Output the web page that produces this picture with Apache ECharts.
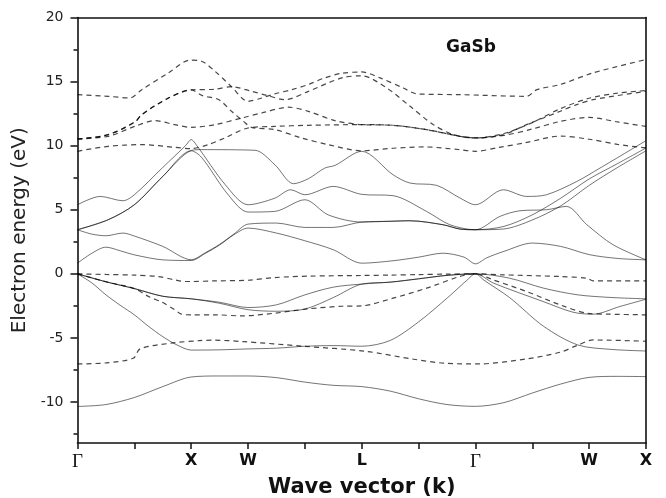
<!DOCTYPE html>
<html><head><meta charset="utf-8">
<script src="https://cdn.jsdelivr.net/npm/echarts@6/dist/echarts.min.js"></script>
<style>html,body{margin:0;padding:0;background:#fff}#c{width:666px;height:498px}</style>
</head><body><div id="c"></div>
<script>
// k-path positions of tick labels
const kTicks = [0,1,2,3,4,5,6,7,8,9,10];
const kLabels = {0:'Γ',2:'X',3:'W',5:'L',7:'Γ',9:'W',10:'X'};
const yMajor = [-10,-5,0,5,10,15,20];
const yMinor = [-12.5,-7.5,-2.5,2.5,7.5,12.5,17.5];

// solid bands [k, E]
const s1 = [[0,-10.35],[0.5,-10.2],[1,-9.65],[1.5,-8.8],[2,-8.05],[2.5,-7.97],[3,-7.97],[3.5,-8.1],[4,-8.45],[4.5,-8.7],[5,-8.8],[5.5,-9.15],[6,-9.75],[6.5,-10.2],[7,-10.34],[7.5,-10.05],[8,-9.3],[8.5,-8.6],[9,-8.08],[9.5,-8.0],[10,-8.02]];
const s2 = [[0,0],[0.25,-0.7],[0.5,-1.64],[0.75,-2.45],[1,-3.2],[1.25,-4.1],[1.5,-4.9],[1.75,-5.55],[2,-5.95],[2.5,-5.93],[3,-5.86],[3.5,-5.8],[4,-5.65],[4.5,-5.6],[5,-5.65],[5.5,-5.2],[6,-3.75],[6.5,-1.9],[6.85,-0.5],[7,0],[7.15,-0.5],[7.6,-1.85],[8.2,-4.1],[8.8,-5.55],[9.4,-5.9],[10,-6.02]];
const s3 = [[0,0],[0.5,-0.62],[1,-1.15],[1.5,-1.75],[2,-1.95],[2.5,-2.22],[3,-2.63],[3.5,-2.42],[4,-1.64],[4.5,-1.04],[5,-0.8],[5.5,-0.65],[6,-0.39],[6.5,-0.12],[7,0],[7.6,-0.34],[8.2,-1.12],[8.8,-1.64],[9.4,-1.85],[10,-1.95]];
const s4 = [[0,0],[0.5,-0.62],[1,-1.15],[1.5,-1.75],[2,-1.95],[2.5,-2.3],[3,-2.8],[3.5,-2.92],[4,-2.75],[4.5,-1.85],[5,-0.8],[5.5,-0.65],[6,-0.39],[6.5,-0.12],[7,0],[7.32,-0.73],[8.19,-2.16],[8.72,-3.0],[9.07,-3.15],[9.54,-2.55],[10,-1.98]];
const c1 = [[0,0.83],[0.25,1.6],[0.5,2.08],[0.75,1.8],[1,1.48],[1.5,1.09],[2,1.04],[2.25,1.6],[2.5,2.25],[2.75,3.05],[3,3.57],[3.5,3.18],[4,2.58],[4.5,1.88],[5,0.83],[5.55,1.02],[6,1.3],[6.43,1.61],[6.8,1.3],[7,0.78],[7.2,1.25],[7.5,1.75],[8,2.4],[8.5,2.14],[9,1.5],[9.5,1.2],[10,1.09]];
const c2 = [[0,3.44],[0.25,3.1],[0.5,2.97],[0.8,3.18],[1,2.95],[1.5,2.14],[2,1.1],[2.25,1.65],[2.5,2.3],[2.75,3.1],[3,3.88],[3.5,3.96],[4,3.62],[4.5,3.62],[5,4.04],[5.5,4.1],[5.85,4.14],[6.43,3.83],[6.73,3.49],[7,3.44],[7.43,4.48],[7.78,4.92],[8.25,5.0],[8.6,5.26],[8.96,3.83],[9.42,2.27],[10,1.09]];
const c3 = [[0,3.44],[0.54,4.22],[1,5.39],[1.5,7.6],[2,9.6],[2.18,9.1],[2.65,6.17],[3,4.82],[3.47,4.87],[4,5.78],[4.41,4.6],[5,4.04],[5.5,4.1],[5.85,4.14],[6.43,3.83],[6.73,3.49],[7,3.44],[7.5,3.7],[8,4.6],[8.5,5.9],[9,7.4],[9.5,8.6],[10,9.82]];
const c4 = [[0,5.39],[0.4,6.04],[0.8,5.7],[1,6.17],[1.5,8.3],[1.9,10.0],[2,10.47],[2.1,10.0],[2.6,6.95],[3,5.39],[3.47,5.9],[3.75,6.56],[4,6.17],[4.5,6.82],[5,6.2],[5.55,6.1],[6.14,4.87],[6.55,3.83],[7,3.44],[7.5,3.5],[8,4.2],[8.5,5.3],[9,6.9],[9.5,8.3],[10,9.6]];
const c5 = [[0,3.44],[0.54,4.22],[1,5.39],[1.5,7.6],[2,9.62],[2.18,9.69],[3.12,9.64],[3.47,8.52],[3.8,7.03],[4.06,7.42],[4.35,8.25],[4.53,8.46],[5,9.56],[5.55,7.73],[5.85,7.08],[6.32,6.9],[6.73,5.91],[7,5.39],[7.49,6.56],[7.9,6.04],[8.25,6.17],[8.78,7.2],[9.19,8.25],[10,10.39]];

// dashed bands [k, E]
const dA = [[0,0],[0.5,-0.05],[1,-0.1],[1.42,-0.21],[1.71,-0.47],[1.9,-0.6],[2,-0.6],[2.42,-0.55],[3,-0.5],[3.47,-0.29],[4.06,-0.18],[5,-0.13],[5.5,-0.1],[6,-0.06],[6.5,-0.02],[7,0],[7.49,-0.08],[8.49,-0.21],[8.96,-0.34],[9.07,-0.55],[10,-0.55]];
const dB = [[0,0],[0.5,-0.62],[1,-1.15],[1.25,-1.77],[1.48,-2.2],[1.71,-2.8],[1.83,-3.15],[2,-3.2],[2.42,-3.2],[2.89,-3.28],[3.47,-3.07],[4.06,-2.73],[4.65,-2.53],[5,-2.5],[5.55,-1.9],[6.14,-1.12],[6.73,-0.2],[7,0],[7.31,-0.47],[7.9,-1.38],[8.49,-2.42],[8.96,-3.07],[9.37,-3.15],[10,-3.2]];
const dC = [[0,-7.03],[0.5,-6.95],[0.98,-6.59],[1.1,-5.86],[1.63,-5.42],[2.15,-5.21],[2.39,-5.18],[2.92,-5.29],[3.97,-5.65],[5.06,-6.04],[5.88,-6.64],[6.47,-6.98],[7.05,-7.03],[7.9,-6.64],[8.49,-6.12],[8.78,-5.6],[9.07,-5.16],[10,-5.26]];
const d1 = [[0,13.98],[0.54,13.85],[0.92,13.72],[1.13,14.37],[1.6,15.68],[1.98,16.67],[2.18,16.59],[2.42,15.8],[2.71,14.6],[3,13.46],[3.24,13.72],[3.47,14.04],[3.77,14.37],[4.06,14.77],[4.35,15.29],[4.65,15.65],[5,15.75],[5.32,15.29],[5.73,14.5],[5.97,14.04],[6.73,13.98],[7.9,13.85],[8.08,14.37],[8.49,14.77],[9.07,15.68],[10,16.72]];
const d2 = [[0,10.52],[0.54,10.86],[1.01,11.85],[1.13,12.42],[1.6,13.72],[2,14.35],[2.4,14.4],[2.71,14.6],[3.06,14.24],[3.35,13.9],[3.65,13.59],[4.06,14.24],[4.65,15.29],[5,15.45],[5.44,14.5],[5.85,13.07],[6.26,11.64],[6.61,10.86],[7,10.6],[7.49,10.86],[7.9,11.64],[8.49,12.68],[8.78,13.2],[9.07,13.59],[10,14.24]];
const d3 = [[0,10.52],[0.54,10.86],[1.01,11.85],[1.13,12.42],[1.6,13.72],[2,14.35],[2.2,13.9],[2.48,13.6],[2.71,12.68],[2.92,11.9],[3.06,11.43],[3.47,11.25],[3.94,10.6],[4.41,10.08],[5,9.6],[5.55,9.8],[6.1,9.9],[6.7,9.7],[7,9.56],[7.4,9.85],[7.9,10.25],[8.5,10.75],[9,10.5],[9.5,10.1],[10,9.82]];
const d4 = [[0,10.52],[0.54,10.73],[1.01,11.51],[1.36,11.95],[1.71,11.64],[2,11.43],[2.42,11.64],[2.89,12.16],[3.24,12.55],[3.71,13.0],[4.06,12.68],[4.53,11.95],[5,11.64],[5.55,11.59],[6.14,11.25],[6.73,10.73],[7,10.6],[7.5,10.8],[8,11.3],[8.5,11.9],[9,12.2],[9.5,11.85],[10,11.5]];
const d5 = [[0,9.56],[0.54,9.95],[1.13,10.08],[1.71,9.87],[2,9.77],[2.3,10.08],[2.59,10.6],[3,11.38],[3.47,11.5],[4.06,11.59],[5,11.64],[5.55,11.59],[6.14,11.25],[6.73,10.73],[7,10.6],[7.5,10.95],[8,11.8],[8.5,12.9],[9,13.7],[9.5,14.1],[10,14.3]];

const solidBands = [s1,s2,s3,s4,c1,c2,c3,c4,c5];
const dashedBands = [dA,dB,dC,d1,d2,d3,d4,d5];

const series = [];
solidBands.forEach(d => series.push({type:'line', data:d, smooth:0.3, symbol:'none', silent:true,
  lineStyle:{color:'rgba(0,0,0,0.55)', width:1}}));
dashedBands.forEach(d => series.push({type:'line', data:d, smooth:0.3, symbol:'none', silent:true,
  lineStyle:{color:'rgba(0,0,0,0.72)', width:1.2, type:[5,4]}}));

const FONT = 'DejaVu Sans';
const chart = echarts.init(document.getElementById('c'), null, {renderer:'canvas'});
chart.setOption({
  animation:false,
  backgroundColor:'#fff',
  title:{text:'GaSb', left:441, top:34, textStyle:{fontFamily:FONT, fontSize:17, fontWeight:'bold', color:'#111'}},
  grid:{left:77.5, right:20, top:17.5, bottom:55, containLabel:false, outerBoundsMode:'none'},
  xAxis:[{
    type:'value', min:0, max:10, interval:1, position:'bottom',
    axisLine:{onZero:false, lineStyle:{color:'#111', width:1.6}},
    axisTick:{show:true, inside:false, length:6, lineStyle:{color:'#111', width:1.5}},
    splitLine:{show:false},
    axisLabel:{margin:10, color:'#111', fontFamily:FONT, fontSize:16, fontWeight:'bold', showMinLabel:true, showMaxLabel:true,
      formatter:v => { const t = kLabels[Math.round(v)]; if(!t) return ''; return t==='Γ' ? '{g|Γ}' : t; },
      rich:{g:{fontFamily:'Liberation Serif', fontSize:19, fontWeight:'normal', color:'#111'}}},
    name:'Wave vector (k)', nameLocation:'middle', nameGap:33,
    nameTextStyle:{fontFamily:FONT, fontSize:21, fontWeight:'bold', color:'#111'}
  },{
    type:'value', min:0, max:10, position:'top',
    axisLine:{show:true, onZero:false, lineStyle:{color:'#111', width:1.6}}, axisTick:{show:false}, axisLabel:{show:false}, splitLine:{show:false}
  }],
  yAxis:[{
    type:'value', min:-13.2, max:20, position:'left',
    axisLine:{show:true, onZero:false, lineStyle:{color:'#111', width:1.6}},
    axisTick:{show:true, length:7, customValues:yMajor, lineStyle:{color:'#111', width:1.5}},
    axisLabel:{customValues:yMajor, color:'#222', fontFamily:FONT, fontSize:14, margin:14},
    splitLine:{show:false},
    name:'Electron energy (eV)', nameLocation:'middle', nameGap:44,
    nameTextStyle:{fontFamily:FONT, fontSize:20, color:'#222'}
  },{
    type:'value', min:-13.2, max:20, position:'left',
    axisLine:{show:false, onZero:false}, axisTick:{show:true, length:4, customValues:yMinor, lineStyle:{color:'#111', width:1.5}},
    axisLabel:{show:false}, splitLine:{show:false}
  },{
    type:'value', min:-13.2, max:20, position:'right',
    axisLine:{show:true, onZero:false, lineStyle:{color:'#111', width:1.6}}, axisTick:{show:false}, axisLabel:{show:false}, splitLine:{show:false}
  }],
  series: series
});
</script>
</body></html>
